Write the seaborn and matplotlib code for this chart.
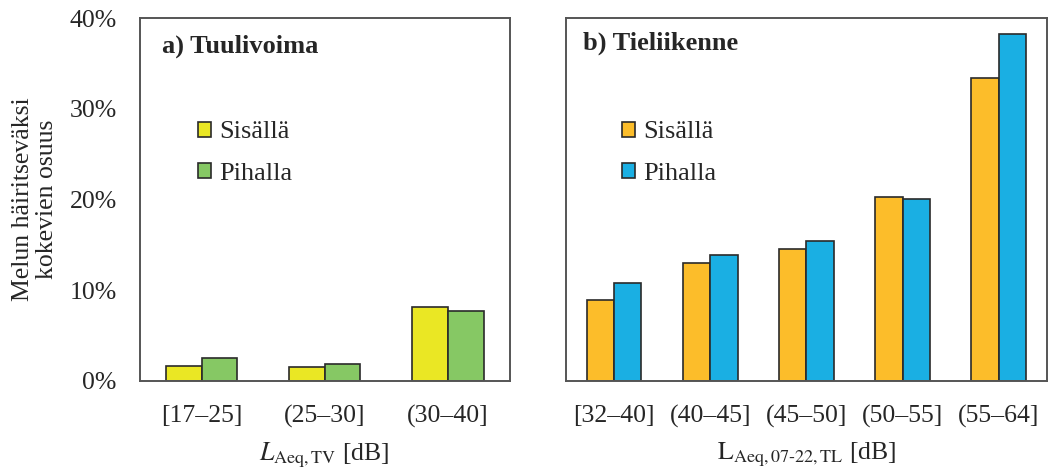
import pandas as pd
import matplotlib.pyplot as plt
import seaborn as sns

# Data (share of residents annoyed, %)
tv_bins = ['[17–25]', '(25–30]', '(30–40]']
tv_inside = [1.7, 1.5, 8.2]
tv_outside = [2.5, 1.9, 7.7]

tl_bins = ['[32–40]', '(40–45]', '(45–50]', '(50–55]', '(55–64]']
tl_inside = [8.9, 13.0, 14.5, 20.3, 33.4]
tl_outside = [10.8, 13.9, 15.4, 20.1, 38.2]

series = ['Sisällä', 'Pihalla']

df_tv = pd.DataFrame({
    'bin': tv_bins * 2,
    'paikka': [series[0]] * len(tv_bins) + [series[1]] * len(tv_bins),
    'osuus': tv_inside + tv_outside,
})
df_tl = pd.DataFrame({
    'bin': tl_bins * 2,
    'paikka': [series[0]] * len(tl_bins) + [series[1]] * len(tl_bins),
    'osuus': tl_inside + tl_outside,
})

sns.set_style('white')
plt.rcParams['font.family'] = ['Liberation Serif', 'DejaVu Serif']
plt.rcParams['mathtext.fontset'] = 'stix'

fs_tick = 18.5
fs_text = 19

fig = plt.figure(figsize=(10.5, 4.68), dpi=100)
ax1 = fig.add_axes([0.1333, 0.186, 0.352, 0.7755])
ax2 = fig.add_axes([0.539, 0.186, 0.458, 0.7755])

edge = '#2a2a2a'
sns.barplot(data=df_tv, x='bin', y='osuus', hue='paikka', ax=ax1,
            palette=['#EAE724', '#86C864'], width=0.58, gap=0, saturation=1,
            edgecolor=edge, linewidth=1.2)
sns.barplot(data=df_tl, x='bin', y='osuus', hue='paikka', ax=ax2,
            palette=['#FCBD2A', '#1AAFE3'], width=0.57, gap=0, saturation=1,
            edgecolor=edge, linewidth=1.2)

for ax in (ax1, ax2):
    ax.set_ylim(0, 40)
    ax.set_yticks([0, 10, 20, 30, 40])
    ax.tick_params(axis='y', direction='inout', length=11.5, width=1.0,
                   color='#444444', pad=11, labelsize=fs_tick)
    ax.tick_params(axis='x', length=0, pad=17, labelsize=fs_tick)
    for s in ax.spines.values():
        s.set_color('#555555')
        s.set_linewidth(1.4)
        s.set_visible(True)
    ax.legend(loc='upper left', frameon=False, fontsize=fs_text,
              handlelength=0.5, handleheight=0.5, handletextpad=0.3,
              labelspacing=0.75, borderpad=0, borderaxespad=0,
              bbox_to_anchor=(0.157 if ax is ax1 else 0.116, 0.715))

ax1.set_yticklabels(['0%', '10%', '20%', '30%', '40%'])
ax2.set_yticklabels([])
ax1.set_xlim(-0.5, 2.5)
ax2.set_xlim(-0.5, 4.5)

ax1.set_ylabel('Melun häiritseväksi\nkokevien osuus', fontsize=fs_tick,
               linespacing=1.15, labelpad=8)
ax2.set_ylabel('')
ax1.set_xlabel(r'$L_{\mathrm{Aeq,TV}}$ [dB]', fontsize=fs_tick, labelpad=9)
ax2.set_xlabel(r'$\mathrm{L}_{\mathrm{Aeq,07\text{-}22,TL}}$ [dB]', fontsize=fs_tick, labelpad=9)

ax1.text(0.06, 0.923, 'a) Tuulivoima', transform=ax1.transAxes,
         fontsize=fs_text, fontweight='bold', va='center', ha='left')
ax2.text(0.035, 0.93, 'b) Tieliikenne', transform=ax2.transAxes,
         fontsize=fs_text, fontweight='bold', va='center', ha='left')

fig.savefig('out.png', dpi=100)
